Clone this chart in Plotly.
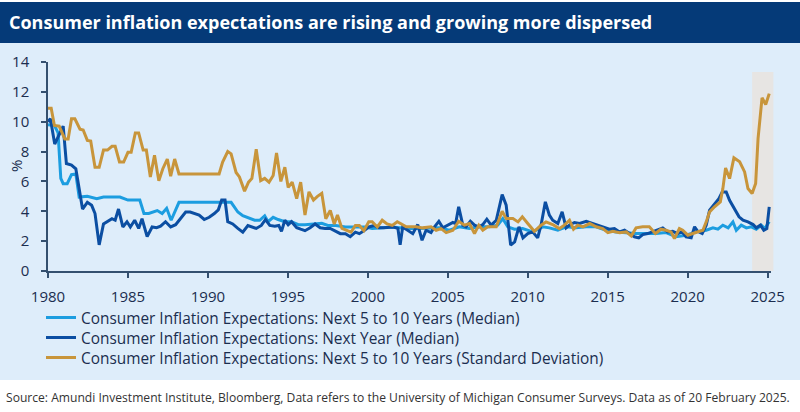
import plotly.graph_objects as go

# ---------------- data ----------------
LT_YEARS = [1980.0, 1980.4, 1980.63, 1980.8, 1980.95, 1981.2, 1981.47, 1981.74, 1981.95, 1982.46,
            1983.05, 1983.47, 1984.5, 1985.0, 1985.74, 1986.0, 1986.3, 1986.83, 1987.14, 1987.42,
            1987.7, 1988.19, 1991.45, 1991.87, 1992.18, 1992.6, 1992.92, 1993.24, 1993.55, 1993.76,
            1994.08, 1994.39, 1994.81, 1995.23, 1995.65, 1996.07, 1996.5, 1997.12, 1997.5, 1998.0,
            1998.6, 1999.22, 1999.85, 2000.27, 2000.9, 2001.53, 2001.98, 2002.55, 2003.2, 2003.85,
            2004.47, 2005.1, 2005.72, 2006.35, 2006.97, 2007.6, 2008.12, 2008.44, 2008.75, 2009.17,
            2009.68, 2010.31, 2010.94, 2011.35, 2011.88, 2012.4, 2013.02, 2013.66, 2014.27, 2014.9,
            2015.53, 2016.16, 2016.77, 2017.4, 2018.02, 2018.65, 2019.27, 2019.9, 2020.53, 2021.16,
            2021.58, 2021.89, 2022.2, 2022.53, 2022.83, 2023.04, 2023.35, 2023.67, 2023.98, 2024.29,
            2024.61, 2024.82, 2025.1]
LT_VALUES = [9.8, 9.75, 9.25, 6.2, 5.85, 5.85, 6.45, 6.5, 4.95, 5.0,
             4.85, 4.95, 4.95, 4.75, 4.75, 3.85, 3.85, 4.05, 3.85, 4.2,
             3.4, 4.6, 4.6, 3.95, 3.7, 3.5, 3.4, 3.4, 3.7, 3.3,
             3.6, 3.45, 3.3, 3.3, 3.1, 3.1, 3.15, 3.2, 3.05, 3.05,
             2.95, 2.95, 2.95, 2.85, 2.9, 2.95, 2.9, 2.84, 2.84, 2.84,
             2.89, 2.73, 2.96, 2.84, 2.96, 2.96, 3.07, 3.51, 2.96, 2.8,
             2.84, 2.62, 2.96, 2.89, 2.73, 2.96, 2.89, 2.96, 2.96, 2.73,
             2.62, 2.57, 2.51, 2.51, 2.51, 2.57, 2.29, 2.4, 2.62, 2.73,
             2.89, 2.8, 3.07, 2.89, 3.29, 2.73, 3.07, 2.89, 2.96, 2.8,
             3.07, 2.84, 3.3]

NY_YEARS = [1980.0, 1980.15, 1980.42, 1980.7, 1980.95, 1981.15, 1981.47, 1981.74, 1982.0, 1982.16,
            1982.46, 1982.73, 1982.94, 1983.2, 1983.47, 1983.72, 1984.0, 1984.2, 1984.41, 1984.68,
            1984.94, 1985.15, 1985.42, 1985.67, 1985.88, 1986.2, 1986.51, 1986.79, 1987.04, 1987.35,
            1987.67, 1987.98, 1988.3, 1988.61, 1988.89, 1989.14, 1989.45, 1989.77, 1990.08, 1990.4,
            1990.65, 1990.86, 1991.07, 1991.24, 1991.55, 1991.87, 1992.18, 1992.5, 1992.82, 1993.02,
            1993.34, 1993.6, 1993.87, 1994.18, 1994.43, 1994.6, 1994.81, 1995.02, 1995.23, 1995.55,
            1995.8, 1996.07, 1996.39, 1996.7, 1997.02, 1997.33, 1997.65, 1997.96, 1998.28, 1998.6,
            1998.9, 1999.22, 1999.47, 1999.75, 2000.06, 2000.38, 2000.69, 2001.0, 2001.3, 2001.6,
            2001.88, 2002.02, 2002.18, 2002.49, 2002.81, 2003.12, 2003.39, 2003.64, 2003.95, 2004.17,
            2004.44, 2004.69, 2005.0, 2005.32, 2005.49, 2005.68, 2005.94, 2006.14, 2006.41, 2006.67,
            2006.94, 2007.19, 2007.44, 2007.71, 2008.03, 2008.4, 2008.65, 2008.93, 2009.18, 2009.45,
            2009.7, 2010.0, 2010.31, 2010.62, 2010.83, 2011.1, 2011.35, 2011.56, 2011.88, 2012.15,
            2012.4, 2012.65, 2012.92, 2013.24, 2013.66, 2014.07, 2014.49, 2014.8, 2015.11, 2015.42,
            2015.74, 2016.05, 2016.36, 2016.67, 2016.94, 2017.19, 2017.5, 2017.81, 2018.12, 2018.44,
            2018.75, 2019.06, 2019.38, 2019.65, 2019.9, 2020.22, 2020.43, 2020.63, 2020.91, 2021.16,
            2021.37, 2021.68, 2021.95, 2022.16, 2022.41, 2022.62, 2022.93, 2023.21, 2023.46, 2023.77,
            2024.09, 2024.29, 2024.55, 2024.76, 2024.95, 2025.1]
NY_VALUES = [10.0, 10.2, 8.5, 9.1, 9.7, 7.2, 7.1, 6.85, 5.05, 4.15,
             4.6, 4.4, 3.85, 1.75, 3.15, 3.3, 3.5, 3.4, 4.15, 2.95,
             3.3, 2.95, 3.4, 2.85, 3.5, 2.3, 2.95, 2.9, 3.0, 3.3,
             2.95, 3.1, 3.5, 3.95, 3.95, 3.85, 3.75, 3.45, 3.6, 3.85,
             4.1, 4.75, 4.75, 3.3, 3.15, 2.85, 2.6, 3.05, 2.95, 2.85,
             3.05, 3.45, 3.05, 3.0, 3.05, 2.65, 3.4, 3.1, 3.3, 2.9,
             2.8, 2.7, 2.9, 3.15, 2.9, 2.85, 2.85, 2.7, 2.5, 2.5,
             2.3, 2.6, 2.5, 2.7, 2.95, 3.05, 2.9, 2.9, 2.95, 2.95,
             2.85, 1.75, 2.95, 2.73, 2.5, 3.11, 2.06, 2.73, 2.57, 2.96,
             3.33, 2.89, 3.07, 3.25, 3.18, 4.3, 3.07, 2.96, 3.33, 3.07,
             2.96, 3.11, 3.47, 3.07, 3.4, 5.12, 4.41, 1.73, 1.95, 2.96,
             2.22, 2.51, 2.62, 2.22, 3.07, 4.63, 3.74, 3.4, 3.18, 3.96,
             2.89, 3.11, 3.25, 3.18, 3.33, 3.18, 3.02, 2.89, 2.8, 2.84,
             2.62, 2.73, 2.51, 2.29, 2.22, 2.44, 2.51, 2.62, 2.73, 2.89,
             2.62, 2.66, 2.51, 2.62, 2.29, 2.22, 2.96, 2.66, 2.51, 3.07,
             4.07, 4.52, 4.85, 5.3, 5.3, 4.74, 4.18, 3.63, 3.4, 3.29,
             3.11, 2.89, 3.07, 2.73, 2.84, 4.3]

SD_YEARS = [1980.0, 1980.2, 1980.4, 1980.7, 1981.05, 1981.26, 1981.47, 1981.68, 1982.0, 1982.2,
            1982.46, 1982.67, 1982.94, 1983.2, 1983.47, 1983.72, 1984.0, 1984.2, 1984.47, 1984.73,
            1985.0, 1985.2, 1985.46, 1985.67, 1985.95, 1986.15, 1986.4, 1986.66, 1986.93, 1987.18,
            1987.46, 1987.67, 1987.92, 1988.19, 1990.7, 1990.92, 1991.24, 1991.45, 1991.76, 1991.97,
            1992.29, 1992.54, 1992.75, 1993.02, 1993.3, 1993.55, 1993.82, 1994.08, 1994.29, 1994.56,
            1994.81, 1995.02, 1995.27, 1995.55, 1995.8, 1996.07, 1996.32, 1996.6, 1996.85, 1997.12,
            1997.37, 1997.65, 1997.9, 1998.1, 1998.38, 1998.7, 1998.95, 1999.22, 1999.47, 1999.75,
            2000.06, 2000.27, 2000.59, 2000.9, 2001.2, 2001.53, 2001.84, 2002.1, 2002.4, 2003.02,
            2003.43, 2003.95, 2004.27, 2004.58, 2004.9, 2005.32, 2005.68, 2006.04, 2006.35, 2006.67,
            2006.94, 2007.19, 2007.5, 2008.03, 2008.4, 2008.65, 2009.07, 2009.39, 2009.66, 2010.0,
            2010.41, 2010.83, 2011.14, 2011.56, 2011.98, 2012.29, 2012.61, 2012.86, 2013.13, 2013.45,
            2013.87, 2014.28, 2014.69, 2015.01, 2015.32, 2015.74, 2016.16, 2016.47, 2016.77, 2017.19,
            2017.6, 2017.98, 2018.33, 2018.65, 2018.96, 2019.17, 2019.48, 2019.69, 2020.01, 2020.32,
            2020.63, 2020.95, 2021.16, 2021.37, 2021.68, 2022.04, 2022.2, 2022.37, 2022.62, 2022.89,
            2023.25, 2023.56, 2023.77, 2024.03, 2024.25, 2024.4, 2024.65, 2024.88, 2025.1]
SD_VALUES = [10.9, 10.9, 9.75, 9.7, 8.85, 8.85, 10.2, 10.2, 9.5, 9.45,
             8.75, 8.7, 6.95, 6.95, 8.1, 8.1, 8.35, 8.35, 7.3, 7.3,
             7.95, 7.95, 9.25, 9.25, 8.1, 8.1, 6.3, 7.75, 6.05, 6.85,
             7.5, 6.35, 7.5, 6.5, 6.5, 7.3, 8.0, 7.85, 6.6, 6.3,
             5.35, 5.95, 6.2, 8.15, 6.05, 6.2, 5.95, 6.4, 7.9, 6.0,
             6.95, 5.6, 5.95, 4.85, 5.95, 3.75, 5.3, 4.75, 5.0, 5.2,
             3.5, 4.05, 3.15, 3.75, 2.85, 2.7, 2.6, 3.05, 3.05, 2.7,
             3.3, 3.3, 2.95, 3.4, 3.15, 3.05, 3.3, 3.15, 2.96, 2.96,
             2.89, 2.96, 2.73, 2.84, 2.57, 2.73, 3.33, 3.07, 3.18, 2.51,
             3.07, 2.73, 2.96, 2.96, 4.0, 3.51, 3.51, 3.29, 3.63, 3.18,
             2.66, 3.07, 3.29, 3.11, 2.84, 3.07, 3.4, 2.8, 3.07, 2.96,
             3.18, 2.96, 2.84, 2.57, 2.66, 2.57, 2.62, 2.35, 2.89, 2.96,
             2.96, 2.51, 2.8, 2.73, 2.62, 2.17, 2.84, 2.73, 2.4, 2.51,
             2.62, 2.73, 3.29, 3.96, 4.3, 4.63, 5.52, 6.9, 6.19, 7.58,
             7.31, 6.64, 5.52, 5.19, 5.86, 8.87, 11.6, 11.15, 11.88]

SERIES_NAMES = ["Consumer Inflation Expectations: Next 5 to 10 Years (Median)",
                "Consumer Inflation Expectations: Next Year (Median)",
                "Consumer Inflation Expectations: Next 5 to 10 Years (Standard Deviation)"]
X_TICKS = [1980, 1985, 1990, 1995, 2000, 2005, 2010, 2015, 2020, 2025]
Y_TICKS = [0, 2, 4, 6, 8, 10, 12, 14]
SHADE_YEARS = [2024.03, 2025.36]
SHADE_TOP = 13.33

TITLE = "Consumer inflation expectations are rising and growing more dispersed"
SOURCE = ("Source: Amundi Investment Institute, Bloomberg, Data refers to the University of "
          "Michigan Consumer Surveys. Data as of 20 February 2025.")

# ---------------- styling ----------------
W, H = 800, 412
L, R, T, B = 48, 29, 62, 141
X_RANGE = [1980, 2025.21]
Y_RANGE = [0, 14]
FONT = "Open Sans"
TEXT = "#1b2d4f"
AXIS = "#34506f"
PANEL = "#deedfa"
TITLE_BG = "#053a78"
COLORS = ["#1c9de0", "#0b4ea2", "#c8953b"]
LEGEND_ROWS_PX = [318, 338, 358]
LEGEND_IDS = ["legend", "legend2", "legend3"]


def pxx(px):
    return (px - L) / (W - L - R)


def pxy(py):
    return (H - B - py) / (H - T - B)


fig = go.Figure()
for xs, ys, name, col, lg in zip([LT_YEARS, NY_YEARS, SD_YEARS], [LT_VALUES, NY_VALUES, SD_VALUES],
                                 SERIES_NAMES, COLORS, LEGEND_IDS):
    fig.add_trace(go.Scatter(x=xs, y=ys, name=name, mode="lines", legend=lg,
                             line=dict(color=col, width=3)))

xr = X_RANGE[1] - X_RANGE[0]
shapes = [
    dict(type="rect", xref="paper", yref="paper", x0=pxx(0), x1=pxx(W), y0=pxy(H), y1=pxy(380),
         fillcolor="white", line=dict(width=0), layer="below"),
    dict(type="rect", xref="paper", yref="paper", x0=pxx(0), x1=pxx(W), y0=pxy(43), y1=pxy(2),
         fillcolor=TITLE_BG, line=dict(width=0), layer="below"),
    dict(type="rect", xref="paper", yref="paper", x0=pxx(0), x1=pxx(W), y0=pxy(2), y1=pxy(0),
         fillcolor="white", line=dict(width=0), layer="below"),
    dict(type="rect", xref="paper", yref="paper",
         x0=(SHADE_YEARS[0] - X_RANGE[0]) / xr, x1=(SHADE_YEARS[1] - X_RANGE[0]) / xr,
         y0=0, y1=SHADE_TOP / Y_RANGE[1],
         fillcolor="#e7e5e3", line=dict(width=0), layer="below"),
]

annotations = [
    dict(text=TITLE, xref="paper", yref="paper", x=pxx(7), y=pxy(22.5), xanchor="left",
         yanchor="middle", showarrow=False,
         font=dict(family=FONT, size=18, color="white", weight=700)),
    dict(text=SOURCE, xref="paper", yref="paper", x=pxx(4), y=pxy(397.5), xanchor="left",
         yanchor="middle", showarrow=False, font=dict(family=FONT, size=12.1, color="#333333")),
    dict(text="%", xref="paper", yref="paper", x=pxx(16), y=pxy(166), xanchor="center",
         yanchor="middle", showarrow=False, textangle=-90,
         font=dict(family=FONT, size=15, color=TEXT)),
]

legend_common = dict(xref="container", yref="container", xanchor="left", yanchor="middle",
                     bgcolor="rgba(0,0,0,0)", font=dict(family=FONT, size=15.4, color=TEXT),
                     itemwidth=30, borderwidth=0)
legends = {}
for lg, row in zip(LEGEND_IDS, LEGEND_ROWS_PX):
    legends[lg] = dict(legend_common, x=41 / W, y=1 - row / H)

fig.update_layout(
    width=W, height=H,
    margin=dict(l=L, r=R, t=T, b=B, pad=0, autoexpand=False),
    paper_bgcolor=PANEL, plot_bgcolor=PANEL,
    font=dict(family=FONT, size=15, color=TEXT),
    shapes=shapes, annotations=annotations,
    showlegend=True,
    xaxis=dict(range=X_RANGE, tickvals=X_TICKS, ticktext=[str(t) for t in X_TICKS],
               showgrid=False, zeroline=False, showline=True, linecolor=AXIS, linewidth=1.5,
               ticks="outside", ticklen=5, tickcolor=AXIS, tickwidth=1.5, tickangle=0,
               ticklabelstandoff=6, tickfont=dict(size=15, color=TEXT), automargin=False),
    yaxis=dict(range=Y_RANGE, tickvals=Y_TICKS, showgrid=False, zeroline=False,
               showline=True, linecolor=AXIS, linewidth=1.5,
               ticks="outside", ticklen=5, tickcolor=AXIS, tickwidth=1.5,
               ticklabelstandoff=9, tickfont=dict(size=15, color=TEXT), automargin=False),
    **legends,
)

fig.write_html("out.html", config={"displayModeBar": False},
               post_script="document.body.style.margin='0';")
